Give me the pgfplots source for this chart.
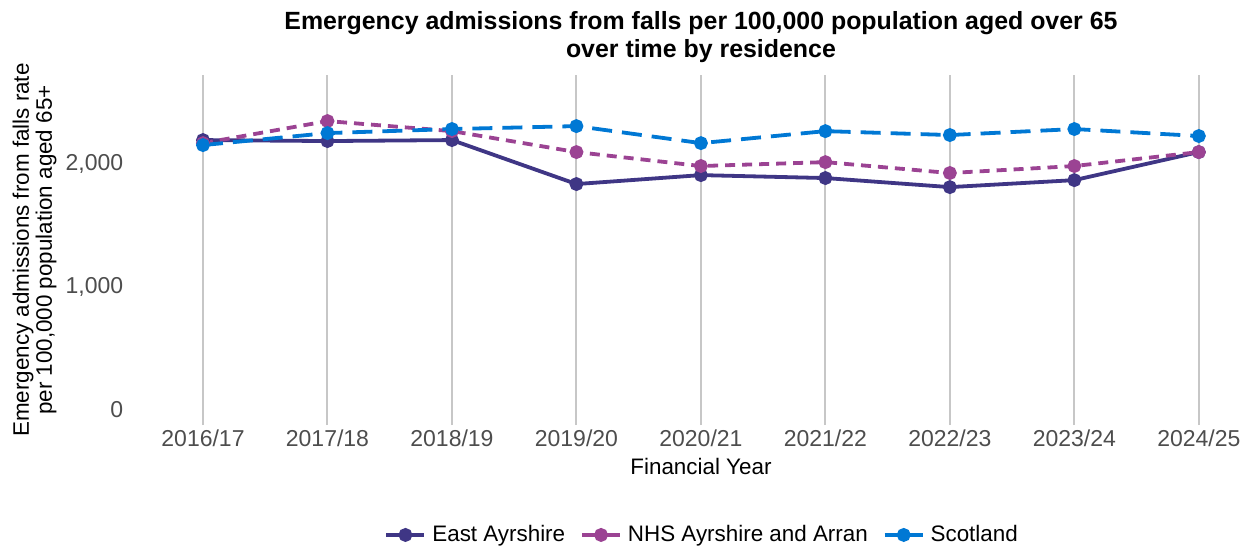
\documentclass[border=0pt]{standalone}
\usepackage{pgfplots}
\pgfplotsset{compat=1.18}
\usepackage{fontspec}
\setmainfont{Liberation Sans}

\definecolor{eastayr}{HTML}{3F3685}
\definecolor{nhsaa}{HTML}{9B4393}
\definecolor{scot}{HTML}{0078D4}
\definecolor{ticktxt}{HTML}{4D4D4D}

\begin{document}
\begin{tikzpicture}
\begin{axis}[
    scale only axis,
    width=557pt,
    height=175pt,
    xmin=-0.6, xmax=8.35,
    ymin=-130, ymax=2727,
    xtick={0,...,8},
    xticklabels={2016/17,2017/18,2018/19,2019/20,2020/21,2021/22,2022/23,2023/24,2024/25},
    ytick={0,1000,2000},
    /pgf/number format/.cd, 1000 sep={,}, assume math mode=true,
    /pgfplots/.cd,
    axis line style={draw=none},
    major tick length=0pt,
    xmajorgrids,
    grid style={color=black!22, line width=1pt},
    tick label style={font=\fontsize{11.5}{13}\selectfont, text=ticktxt},
    xticklabel style={yshift=1pt},
    yticklabel style={xshift=1pt},
    title={Emergency admissions from falls per 100,000 population aged over 65\\over time by residence},
    title style={font=\fontsize{12.45}{14}\selectfont\bfseries, align=center,
        at={(rel axis cs:0.514,1)}, anchor=south, yshift=-3.5pt},
    xlabel={Financial Year},
    xlabel style={font=\fontsize{11.2}{13}\selectfont, at={(rel axis cs:0.514,0)}, anchor=center, yshift=-20.5pt},
    ylabel={Emergency admissions from falls rate\\per 100,000 population aged 65+},
    ylabel style={font=\fontsize{11.2}{11.5}\selectfont, align=center,
        at={(rel axis cs:-0.058,0.5)}, anchor=south, rotate=0},
    legend columns=3,
    legend style={draw=none, font=\fontsize{11.2}{13}\selectfont,
        at={(rel axis cs:0.516,-0.314)}, anchor=center,
        /tikz/every odd column/.append style={column sep=1pt},
        /tikz/every even column/.append style={column sep=5.5pt}},
    legend image code/.code={
        \draw[mark repeat=2,mark phase=2,#1,solid] plot coordinates {(0pt,0pt) (9.5pt,0pt) (19pt,0pt)};
    },
    every axis plot/.append style={line width=1.9pt, mark=*, mark size=2.5pt},
]

\addplot[color=eastayr, solid, mark options={solid}] coordinates {
    (0,2196) (1,2188) (2,2196) (3,1837) (4,1910) (5,1886) (6,1812) (7,1869) (8,2098)
};
\addlegendentry{East Ayrshire}

\addplot[color=nhsaa, dash pattern=on 5pt off 3.5pt, mark options={solid}] coordinates {
    (0,2171) (1,2351) (2,2269) (3,2098) (4,1984) (5,2016) (6,1927) (7,1984) (8,2098)
};
\addlegendentry{NHS Ayrshire and Arran}

\addplot[color=scot, dash pattern=on 10pt off 5pt, mark options={solid}] coordinates {
    (0,2155) (1,2253) (2,2286) (3,2310) (4,2171) (5,2269) (6,2237) (7,2286) (8,2229)
};
\addlegendentry{Scotland}

\end{axis}
\pgfresetboundingbox
\path[use as bounding box] ([shift={(-64.15pt,-62pt)}]current axis.south west)
    rectangle ([shift={(5.3pt,37.5pt)}]current axis.north east);
\end{tikzpicture}
\end{document}
